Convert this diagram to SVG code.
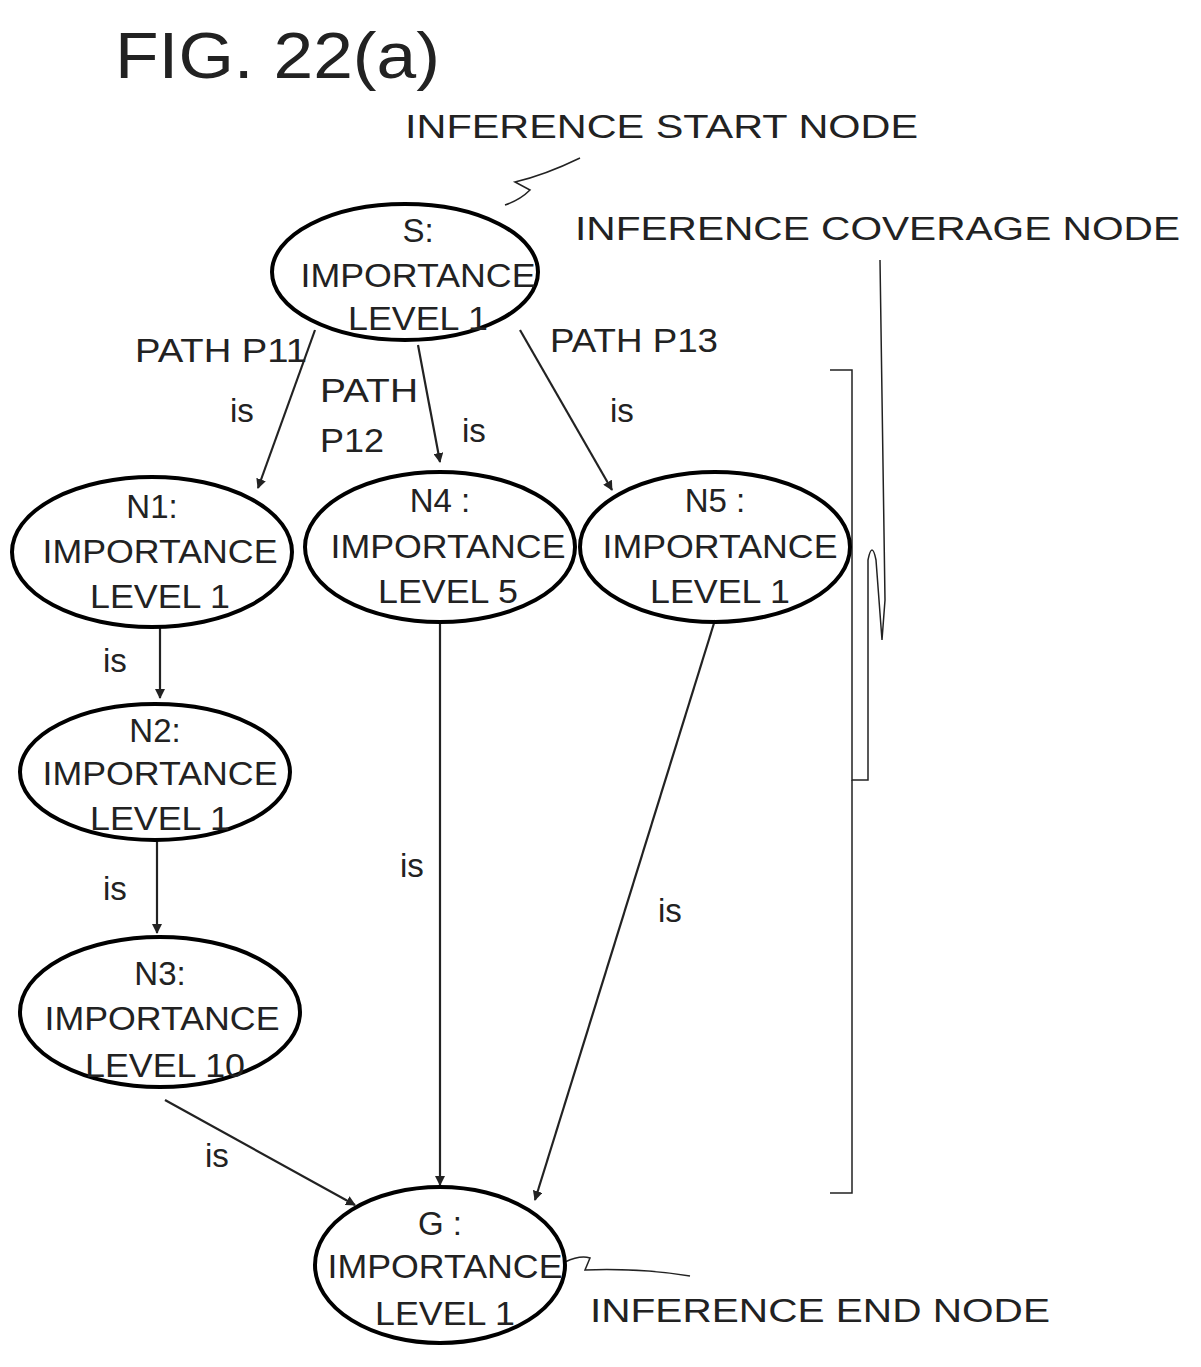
<svg xmlns="http://www.w3.org/2000/svg" width="1201" height="1367" viewBox="0 0 1201 1367">
<style>
.n{fill:none;stroke:#000;stroke-width:4}
.t{font-family:"Liberation Sans",Arial,sans-serif;font-size:33px;fill:#222;text-anchor:middle}
.l{font-family:"Liberation Sans",Arial,sans-serif;font-size:33px;fill:#222}
.c{fill:none;stroke:#222;stroke-width:2.2}
.w{fill:none;stroke:#222;stroke-width:1.5}
</style>
<defs><marker id="a" markerWidth="10" markerHeight="10" refX="9" refY="5" orient="auto" markerUnits="userSpaceOnUse" viewBox="0 0 10 10"><path d="M0,0L10,5L0,10z" fill="#222"/></marker></defs>
<rect width="1201" height="1367" fill="#fff"/>
<text x="115" y="78" font-family="Liberation Sans,Arial,sans-serif" font-size="64" fill="#222" textLength="325" lengthAdjust="spacingAndGlyphs">FIG. 22(a)</text>
<text class="l" x="405" y="138" textLength="513" lengthAdjust="spacingAndGlyphs">INFERENCE START NODE</text>
<text class="l" x="575" y="240" textLength="605" lengthAdjust="spacingAndGlyphs">INFERENCE COVERAGE NODE</text>
<text class="l" x="590" y="1322" textLength="460" lengthAdjust="spacingAndGlyphs">INFERENCE END NODE</text>
<g id="leaders">
<path class="w" d="M505,205 Q520,200 530,190 L515,182 Q545,175 580,158"/>
<path class="w" d="M565,1262 Q580,1255 590,1258 L585,1270 Q640,1268 690,1276"/>
<path class="w" d="M830,370 L852,370 L852,780 L868,780 L868,560 Q872,540 876,560 L882,640 L885,600 L880,260"/>
<path class="w" d="M852,780 L852,1193 L830,1193"/>
</g>
<g id="connectors">
<path class="c" d="M315,330 L258,488" marker-end="url(#a)"/>
<path class="c" d="M418,345 L440,462" marker-end="url(#a)"/>
<path class="c" d="M520,330 L612,490" marker-end="url(#a)"/>
<path class="c" d="M160,625 L160,698" marker-end="url(#a)"/>
<path class="c" d="M157,840 L157,933" marker-end="url(#a)"/>
<path class="c" d="M165,1100 L355,1205" marker-end="url(#a)"/>
<path class="c" d="M440,620 L440,1185" marker-end="url(#a)"/>
<path class="c" d="M715,620 L535,1200" marker-end="url(#a)"/>
<text class="l" x="135" y="362" textLength="172" lengthAdjust="spacingAndGlyphs">PATH P11</text>
<text class="l" x="230" y="422">is</text>
<text class="l" x="320" y="402" textLength="98" lengthAdjust="spacingAndGlyphs">PATH</text>
<text class="l" x="320" y="452" textLength="64" lengthAdjust="spacingAndGlyphs">P12</text>
<text class="l" x="462" y="442">is</text>
<text class="l" x="550" y="352" textLength="168" lengthAdjust="spacingAndGlyphs">PATH P13</text>
<text class="l" x="610" y="422">is</text>
<text class="l" x="103" y="672">is</text>
<text class="l" x="103" y="900">is</text>
<text class="l" x="400" y="877">is</text>
<text class="l" x="658" y="922">is</text>
<text class="l" x="205" y="1167">is</text>
</g>
<g id="S"><ellipse class="n" cx="405" cy="272" rx="133" ry="68"/><text class="t" x="418" y="242">S:</text><text class="t" x="418" y="287" textLength="235" lengthAdjust="spacingAndGlyphs">IMPORTANCE</text><text class="t" x="418" y="330" textLength="140" lengthAdjust="spacingAndGlyphs">LEVEL 1</text></g>
<g id="N1"><ellipse class="n" cx="152" cy="552" rx="140" ry="75"/><text class="t" x="152" y="518">N1:</text><text class="t" x="160" y="563" textLength="235" lengthAdjust="spacingAndGlyphs">IMPORTANCE</text><text class="t" x="160" y="608" textLength="140" lengthAdjust="spacingAndGlyphs">LEVEL 1</text></g>
<g id="N4"><ellipse class="n" cx="440" cy="547" rx="135" ry="75"/><text class="t" x="440" y="512">N4 :</text><text class="t" x="448" y="558" textLength="235" lengthAdjust="spacingAndGlyphs">IMPORTANCE</text><text class="t" x="448" y="603" textLength="140" lengthAdjust="spacingAndGlyphs">LEVEL 5</text></g>
<g id="N5"><ellipse class="n" cx="715" cy="547" rx="135" ry="75"/><text class="t" x="715" y="512">N5 :</text><text class="t" x="720" y="558" textLength="235" lengthAdjust="spacingAndGlyphs">IMPORTANCE</text><text class="t" x="720" y="603" textLength="140" lengthAdjust="spacingAndGlyphs">LEVEL 1</text></g>
<g id="N2"><ellipse class="n" cx="155" cy="772" rx="135" ry="68"/><text class="t" x="155" y="742">N2:</text><text class="t" x="160" y="785" textLength="235" lengthAdjust="spacingAndGlyphs">IMPORTANCE</text><text class="t" x="160" y="830" textLength="140" lengthAdjust="spacingAndGlyphs">LEVEL 1</text></g>
<g id="N3"><ellipse class="n" cx="160" cy="1012" rx="140" ry="75"/><text class="t" x="160" y="985">N3:</text><text class="t" x="162" y="1030" textLength="235" lengthAdjust="spacingAndGlyphs">IMPORTANCE</text><text class="t" x="165" y="1077" textLength="160" lengthAdjust="spacingAndGlyphs">LEVEL 10</text></g>
<g id="G"><ellipse class="n" cx="440" cy="1265" rx="125" ry="78"/><text class="t" x="440" y="1235">G :</text><text class="t" x="445" y="1278" textLength="235" lengthAdjust="spacingAndGlyphs">IMPORTANCE</text><text class="t" x="445" y="1325" textLength="140" lengthAdjust="spacingAndGlyphs">LEVEL 1</text></g>
</svg>
